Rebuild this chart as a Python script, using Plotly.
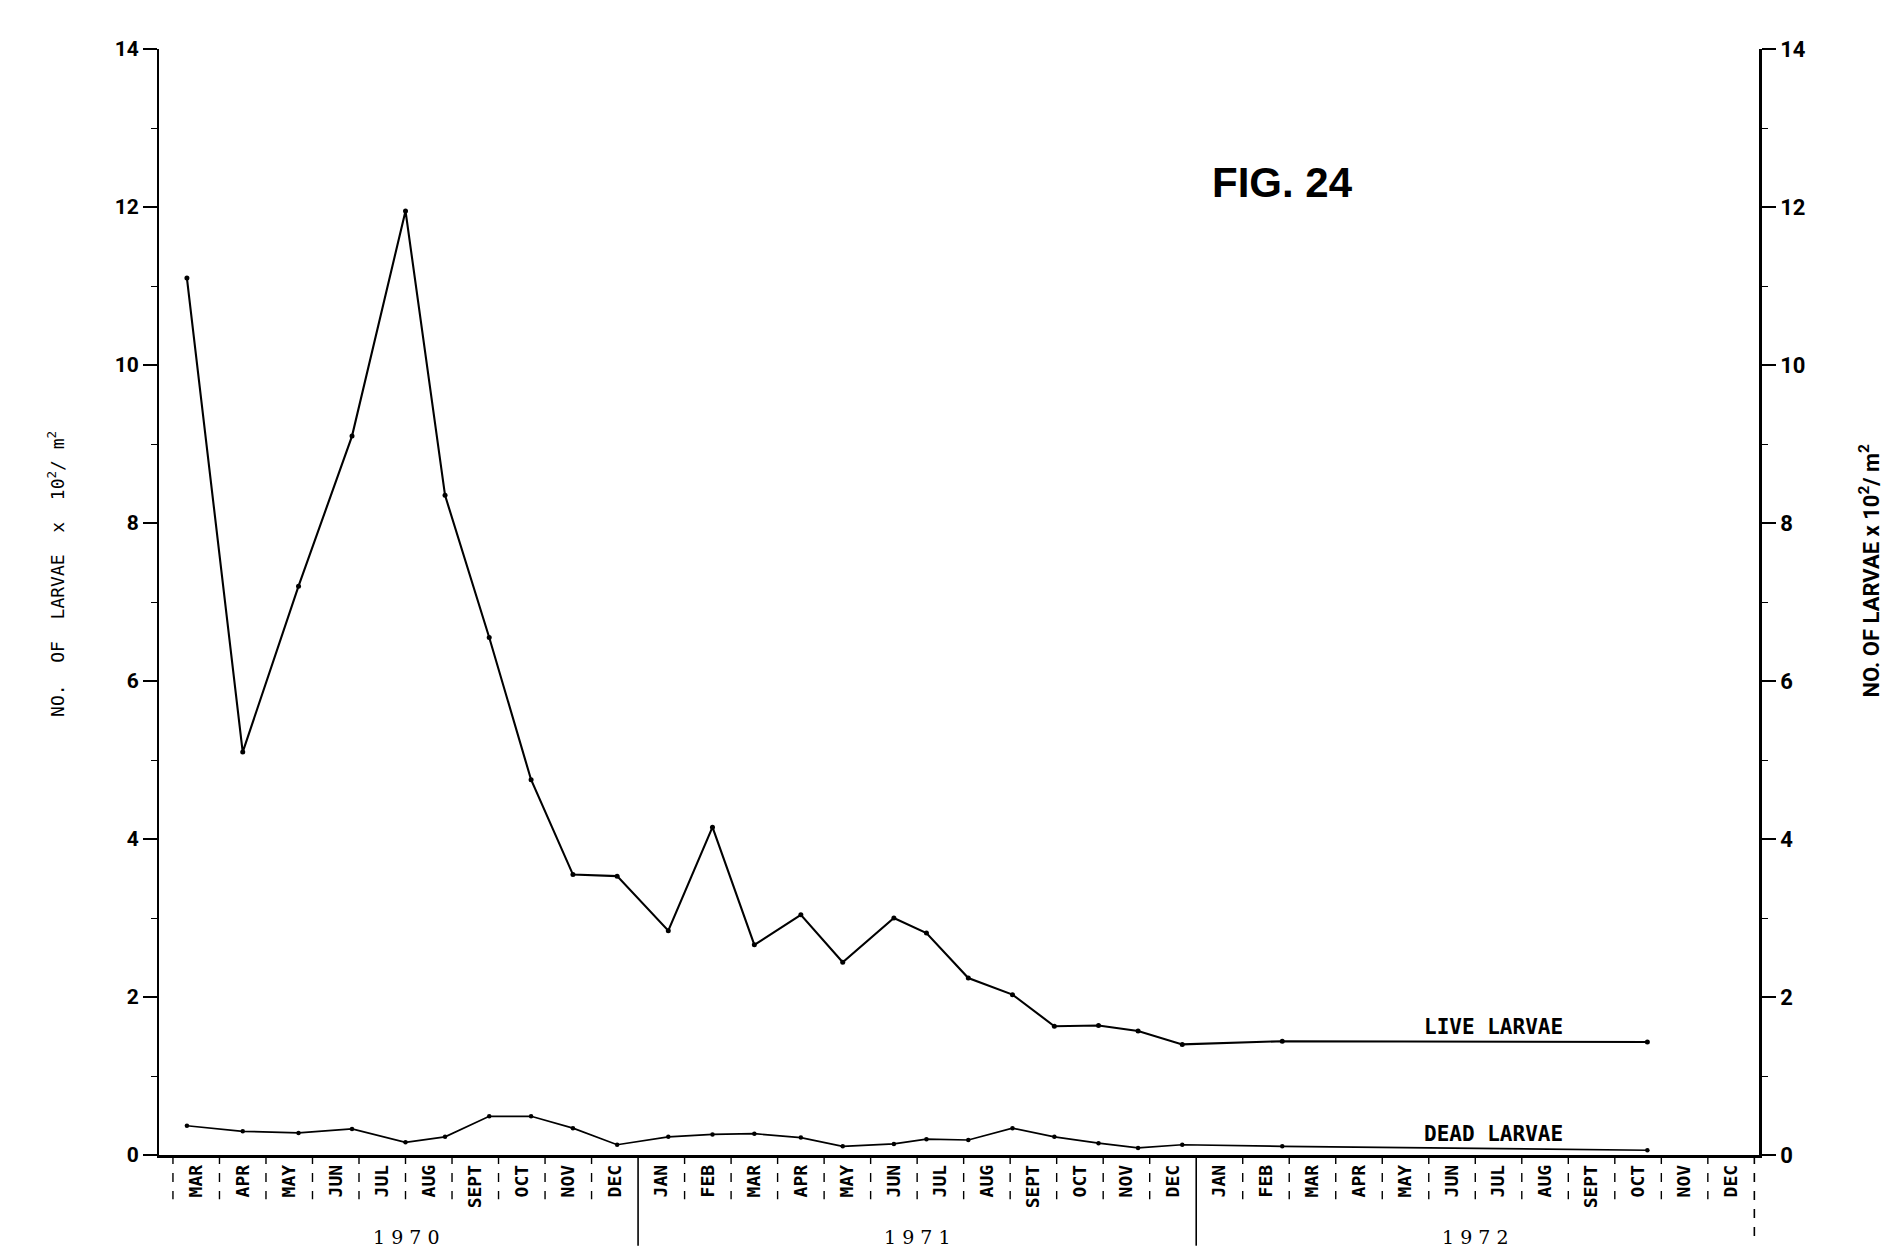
"""
Fig. 24 - larvas vivas e mortas por m2, 1970-1972.
"""
import numpy as np
import plotly.graph_objects as go

# rótulos do eixo x (um por mês, mar/1970 a dez/1972)
months = ['MAR', 'APR', 'MAY', 'JUN', 'JUL', 'AUG', 'SEPT', 'OCT', 'NOV', 'DEC',
          'JAN', 'FEB', 'MAR', 'APR', 'MAY', 'JUN', 'JUL', 'AUG', 'SEPT', 'OCT', 'NOV', 'DEC',
          'JAN', 'FEB', 'MAR', 'APR', 'MAY', 'JUN', 'JUL', 'AUG', 'SEPT', 'OCT', 'NOV', 'DEC']
years = ['1 9 7 0', '1 9 7 1', '1 9 7 2']
year_first = [0, 10, 22]
year_last = [9, 21, 33]

# posição das amostras (índice do mês)
sample_pos = [-0.2, 1.0, 2.2, 3.35, 4.5, 5.35, 6.3, 7.2, 8.1, 9.05,
              10.15, 11.1, 12.0, 13.0, 13.9, 15.0, 15.7, 16.6, 17.55, 18.45, 19.4, 20.25,
              21.2, 23.35, 31.2]
live = [11.1, 5.1, 7.2, 9.1, 11.95, 8.35, 6.55, 4.75, 3.55, 3.53,
        2.84, 4.15, 2.66, 3.04, 2.44, 3.0, 2.81, 2.24, 2.03, 1.63, 1.64, 1.57,
        1.40, 1.44, 1.43]
dead = [0.37, 0.30, 0.28, 0.33, 0.16, 0.23, 0.49, 0.49, 0.34, 0.13,
        0.23, 0.26, 0.27, 0.22, 0.11, 0.14, 0.20, 0.19, 0.34, 0.23, 0.15, 0.09,
        0.13, 0.11, 0.06]

y_ticks = [0, 2, 4, 6, 8, 10, 12, 14]
y_minor = [1, 3, 5, 7, 9, 11, 13]

fig = go.Figure()

fig.add_trace(go.Scatter(
    x=sample_pos, y=live, mode='lines+markers',
    line=dict(color='black', width=2.1),
    marker=dict(size=5, color='black'),
    showlegend=False
))
fig.add_trace(go.Scatter(
    x=sample_pos, y=dead, mode='lines+markers',
    line=dict(color='black', width=1.7),
    marker=dict(size=4.5, color='black'),
    showlegend=False
))
# eixo da direita
fig.add_trace(go.Scatter(x=[None], y=[None], yaxis='y2', showlegend=False))

# separadores dos meses abaixo do eixo
shapes = []
for k in range(len(months) + 1):
    if k in year_first[1:]:
        y1, dash, w = -0.082, 'solid', 1.6
    elif k == len(months):
        y1, dash, w = -0.08, 'dash', 1.6
    else:
        y1, dash, w = -0.04, 'dash', 1.4
    shapes.append(dict(type='line', xref='x', yref='paper',
                       x0=k - 0.5, x1=k - 0.5, y0=0, y1=y1,
                       line=dict(color='black', width=w, dash=dash)))

annotations = []
for label, a, b in zip(years, year_first, year_last):
    annotations.append(dict(x=(a + b) / 2, y=-0.074, xref='x', yref='paper',
                            text=label, showarrow=False, xanchor='center', yanchor='middle',
                            font=dict(family='DejaVu Serif', size=19, color='black')))

lab_x = 27.9
annotations.append(dict(x=lab_x, y=float(np.interp(lab_x, sample_pos, live)),
                        xref='x', yref='y', text='LIVE LARVAE', showarrow=False,
                        xanchor='center', yanchor='bottom', yshift=1,
                        font=dict(family='DejaVu Sans Mono', size=21, color='black', weight='bold')))
annotations.append(dict(x=lab_x, y=float(np.interp(lab_x, sample_pos, dead)),
                        xref='x', yref='y', text='DEAD LARVAE', showarrow=False,
                        xanchor='center', yanchor='bottom', yshift=1,
                        font=dict(family='DejaVu Sans Mono', size=21, color='black', weight='bold')))

annotations.append(dict(x=0.702, y=0.879, xref='paper', yref='paper',
                        text='FIG. 24', showarrow=False, xanchor='center', yanchor='middle',
                        font=dict(family='Liberation Sans', size=42, color='black', weight='bold')))

annotations.append(dict(x=-0.064, y=0.525, xref='paper', yref='paper', textangle=-90,
                        xanchor='center', yanchor='middle',
                        text='NO.  OF  LARVAE  x  10<sup>2</sup>/ m<sup>2</sup>', showarrow=False,
                        font=dict(family='DejaVu Sans Mono', size=18, color='black')))
annotations.append(dict(x=1.069, y=0.528, xref='paper', yref='paper', textangle=-90,
                        xanchor='center', yanchor='middle',
                        text='NO. OF LARVAE x 10<sup>2</sup>/ m<sup>2</sup>', showarrow=False,
                        font=dict(family='Roboto', size=22, color='black', weight='bold')))

y_common = dict(
    range=[0, 14], tickvals=y_ticks, ticks='outside', ticklen=14, tickwidth=1.6,
    tickcolor='black', showline=True, linecolor='black', showgrid=False, zeroline=False,
    minor=dict(tickvals=y_minor, ticks='outside', ticklen=6, tickwidth=1.4, tickcolor='black'),
)

fig.update_layout(
    width=1890, height=1260,
    margin=dict(l=151, r=139, t=41, b=113),
    plot_bgcolor='white', paper_bgcolor='white',
    xaxis=dict(
        range=[-0.8, 33.6], tickvals=list(range(len(months))), ticktext=months,
        tickangle=-90, ticks='', showline=True, linecolor='black', linewidth=2.5,
        showgrid=False, zeroline=False,
        tickfont=dict(family='DejaVu Sans Mono', size=18, color='black', weight='bold'),
    ),
    yaxis=dict(**y_common, linewidth=2,
               tickfont=dict(family='Roboto', size=21, color='black', weight='bold')),
    yaxis2=dict(**y_common, linewidth=2.5, overlaying='y', side='right', anchor='x',
                tickfont=dict(family='Roboto', size=22, color='black', weight='bold')),
    shapes=shapes,
    annotations=annotations,
    showlegend=False,
)

fig.write_html("out.html")
